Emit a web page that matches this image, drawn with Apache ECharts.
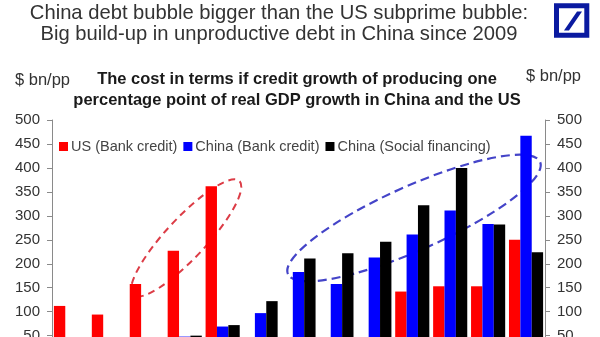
<!DOCTYPE html>
<html>
<head>
<meta charset="utf-8">
<script src="https://cdn.jsdelivr.net/npm/echarts@6/dist/echarts.min.js"></script>
<style>
html,body{margin:0;padding:0;overflow:hidden;background:#fff;width:600px;height:337px;}
#c{width:600px;height:400px;}
</style>
</head>
<body>
<div id="c"></div>
<script>
const categories = ['2003','2004','2005','2006','2007','2008','2009','2010','2011','2012','2013','2014','2015'];
const usBank = [112, 94, 158, 227, 362, null, null, null, null, 142, 153, 153, 250];
const chinaBank = [null, null, null, 48, 69, 97, 183, 158, 213, 261, 311, 283, 467];
const chinaSocial = [null, null, null, 50, 72, 122, 211, 222, 246, 322, 400, 282, 224];
const seriesNames = ['US (Bank credit)', 'China (Bank credit)', 'China (Social financing)'];
const titleLines = ['China debt bubble bigger than the US subprime bubble:', 'Big build-up in unproductive debt in China since 2009'];
const subLines = ['The cost in terms if credit growth of producing one', 'percentage point of real GDP growth in China and the US'];
const unitLabel = '$ bn/pp';

const FONT = 'Liberation Sans, Arial, sans-serif';
const chart = echarts.init(document.getElementById('c'), null, {renderer: 'canvas'});

function yAxis(pos) {
  return {
    type: 'value', position: pos, min: 0, max: 500, interval: 50,
    splitLine: {show: false},
    axisLine: {show: true, lineStyle: {color: '#8a8a8a', width: 1}},
    axisTick: {show: true, inside: false, length: 5, lineStyle: {color: '#8a8a8a'}},
    axisLabel: {color: '#333', fontSize: 15, fontFamily: FONT, margin: 12}
  };
}

chart.setOption({
  animation: false,
  backgroundColor: '#fff',
  title: [
    {text: titleLines.join('\n'), left: 279, top: 3, padding: 0, textAlign: 'center',
     textStyle: {fontSize: 20.2, fontWeight: 'normal', color: '#333', fontFamily: FONT, lineHeight: 21}},
    {text: subLines.join('\n'), left: 297, top: 69.5, padding: 0, textAlign: 'center',
     textStyle: {fontSize: 16.5, fontWeight: 'bold', color: '#1a1a1a', fontFamily: FONT, lineHeight: 20.6}},
    {text: unitLabel, left: 15, top: 72, padding: 0,
     textStyle: {fontSize: 16.5, fontWeight: 'normal', color: '#333', fontFamily: FONT}},
    {text: unitLabel, left: 526, top: 68, padding: 0,
     textStyle: {fontSize: 16.5, fontWeight: 'normal', color: '#333', fontFamily: FONT}}
  ],
  legend: {
    left: 54, top: 134, itemGap: 6, itemWidth: 9, itemHeight: 9, icon: 'rect',
    textStyle: {fontSize: 14.5, color: '#444', fontFamily: FONT, padding: [0,0,0,-2]},
    data: seriesNames
  },
  grid: {left: 52, right: 55, top: 120, bottom: 40.4, containLabel: false},
  xAxis: {
    type: 'category', data: categories,
    axisLine: {show: true, lineStyle: {color: '#8a8a8a'}},
    axisTick: {show: false},
    axisLabel: {color: '#333', fontSize: 14, fontFamily: FONT}
  },
  yAxis: [yAxis('left'), yAxis('right')],
  series: [
    {name: seriesNames[0], type: 'bar', z: 5, data: usBank, itemStyle: {color: '#ff0000'}, barGap: '0%', barCategoryGap: '10%'},
    {name: seriesNames[1], type: 'bar', z: 5, data: chinaBank, itemStyle: {color: '#0000ff'}, barGap: '0%', barCategoryGap: '10%'},
    {name: seriesNames[2], type: 'bar', z: 5, data: chinaSocial, itemStyle: {color: '#000000'}, barGap: '0%', barCategoryGap: '10%'}
  ],
  graphic: [
    {type: 'ellipse', x: 186.2, y: 238, rotation: 47 * Math.PI / 180, z: 1, silent: true,
     shape: {cx: 0, cy: 0, rx: 78, ry: 20},
     style: {fill: 'none', stroke: '#dc3c46', lineWidth: 2, lineDash: [7, 5]}},
    {type: 'ellipse', x: 414, y: 218, rotation: 24 * Math.PI / 180, z: 1, silent: true,
     shape: {cx: 0, cy: 0, rx: 138, ry: 32},
     style: {fill: 'none', stroke: '#4444c8', lineWidth: 2.2, lineDash: [9, 5]}},
    {type: 'rect', z: 100, silent: true,
     shape: {x: 556.5, y: 5.8, width: 30.3, height: 29.4},
     style: {fill: '#fff', stroke: '#0a1aa0', lineWidth: 5}},
    {type: 'polygon', z: 101, silent: true,
     shape: {points: [[564, 30.5], [569, 30.5], [582, 11.5], [577, 11.5]]},
     style: {fill: '#0a1aa0'}}
  ]
});
</script>
</body>
</html>
